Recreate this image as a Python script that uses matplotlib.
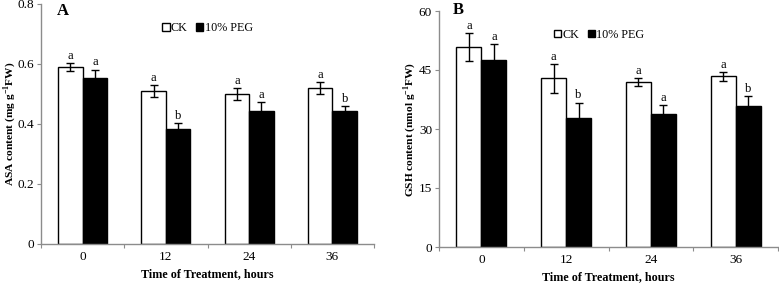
import numpy as np
from matplotlib import pyplot as plt

plt.rcParams['font.family'] = ['Liberation Serif', 'DejaVu Serif']
plt.rcParams['mathtext.fontset'] = 'custom'
plt.rcParams['mathtext.rm'] = 'Liberation Serif'
plt.rcParams['mathtext.bf'] = 'Liberation Serif:bold'

hours = ['0', '12', '24', '36']

# panel A: ASA content
asa_ck = [0.59, 0.51, 0.50, 0.52]
asa_ck_err = [0.012, 0.02, 0.02, 0.021]
asa_peg = [0.553, 0.383, 0.444, 0.444]
asa_peg_err = [0.028, 0.02, 0.029, 0.017]
asa_ck_lab = ['a', 'a', 'a', 'a']
asa_peg_lab = ['a', 'b', 'a', 'b']

# panel B: GSH content
gsh_ck = [50.8, 42.9, 42.0, 43.4]
gsh_ck_err = [3.5, 3.7, 1.0, 1.1]
gsh_peg = [47.6, 32.9, 33.9, 35.9]
gsh_peg_err = [3.9, 3.8, 2.1, 2.4]
gsh_ck_lab = ['a', 'a', 'a', 'a']
gsh_peg_lab = ['a', 'b', 'a', 'b']

c_axis = '#8c8c8c'
w = 0.295


def draw_panel(ax, ck, ck_err, peg, peg_err, ck_lab, peg_lab,
               ymax, ystep, ylabel, off, ylab_x, leg_x):
    x = np.arange(len(hours))
    ek = dict(ecolor='black', elinewidth=1.0, capsize=3, capthick=1.0)
    b1 = ax.bar(x - w/2, ck, w, yerr=ck_err, color='white', edgecolor='black',
                linewidth=1.0, error_kw=ek, label='CK', zorder=2)
    b2 = ax.bar(x + w/2, peg, w, yerr=peg_err, color='black',
                edgecolor='black', linewidth=1.0, error_kw=ek,
                label='10% PEG', zorder=2)
    for i in range(len(hours)):
        ax.text(x[i] - w/2, ck[i] + ck_err[i] + off, ck_lab[i],
                ha='center', va='bottom', fontsize=9)
        ax.text(x[i] + w/2, peg[i] + peg_err[i] + off, peg_lab[i],
                ha='center', va='bottom', fontsize=9)

    ax.set_xlim(-0.5, len(hours) - 0.5)
    ax.set_ylim(0, ymax)
    ax.set_yticks(np.arange(0, ymax + ystep/2, ystep))
    ax.set_xticks(np.arange(-0.5, len(hours), 1.0))
    ax.set_xticklabels([])
    ax.set_xticks(x, minor=True)
    ax.set_xticklabels(hours, minor=True)
    ax.tick_params(axis='x', which='minor', length=0, pad=5, labelsize=9.5)
    ax.tick_params(axis='x', which='major', length=3, color=c_axis,
                   direction='out')
    ax.tick_params(axis='y', length=3, color=c_axis, labelsize=9.5, pad=2)

    for s in ['top', 'right']:
        ax.spines[s].set_visible(False)
    for s in ['left', 'bottom']:
        ax.spines[s].set_color(c_axis)
        ax.spines[s].set_linewidth(1.0)

    ax.set_xlabel('Time of Treatment, hours', fontsize=8.7,
                  fontweight='bold', labelpad=4)
    ax.set_ylabel(ylabel, fontsize=8.2, fontweight='bold')
    ax.yaxis.set_label_coords(ylab_x, 0.5)
    ax.legend(handles=[b1, b2], loc='upper center',
              bbox_to_anchor=(leg_x, 0.945), ncol=2, frameon=False,
              fontsize=8.7, handlelength=0.6, handleheight=0.6,
              handletextpad=0.1, columnspacing=0.7, borderaxespad=0)


fig = plt.figure(figsize=(7.79, 2.85), dpi=100)
ax1 = fig.add_axes([41/779, 1 - 244/285, (374 - 41)/779, (244 - 4)/285])
ax2 = fig.add_axes([439/779, 1 - 247/285, (778 - 439)/779, (247 - 11)/285])

draw_panel(ax1, asa_ck, asa_ck_err, asa_peg, asa_peg_err, asa_ck_lab,
           asa_peg_lab, 0.8, 0.2, r'ASA content (mg g$^{\mathbf{-1}}$FW)',
           0.004, (18 - 41)/333, 0.5)
ax1.set_yticklabels(['0', '0.2', '0.4', '0.6', '0.8'])
draw_panel(ax2, gsh_ck, gsh_ck_err, gsh_peg, gsh_peg_err, gsh_ck_lab,
           gsh_peg_lab, 60, 15, r'GSH content (nmol g$^{\mathbf{-1}}$FW)',
           0.3, (418 - 439)/339, 0.472)

fig.text(57/779, 1 - 3/285, 'A', fontsize=12, fontweight='bold',
         va='top', ha='left')
fig.text(453/779, 1 - 2/285, 'B', fontsize=12, fontweight='bold',
         va='top', ha='left')

fig.savefig('out.png', dpi=100)
